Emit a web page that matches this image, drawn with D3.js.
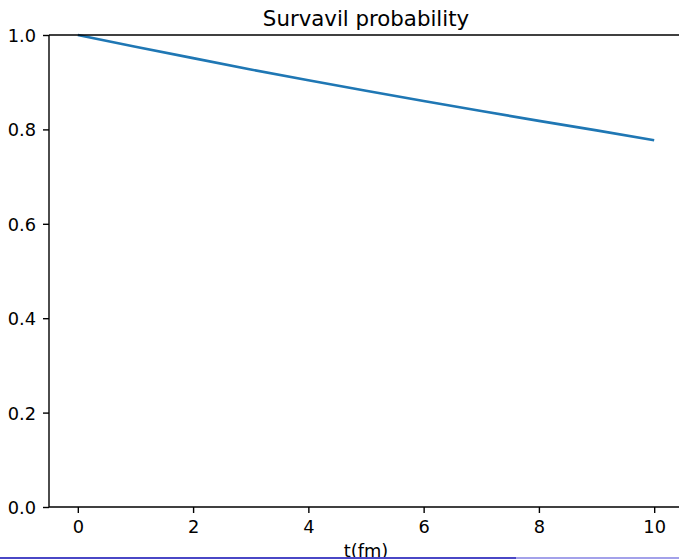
<!DOCTYPE html>
<html>
<head>
<meta charset="utf-8">
<script src="https://cdn.jsdelivr.net/npm/d3@7"></script>
<style>
  body { margin: 0; background: #fff; }
  svg { display: block; font-family: "DejaVu Sans", sans-serif; }
</style>
</head>
<body>
<svg id="chart"></svg>
<script>
var width = 679,
    height = 559;

// data
var times = [0, 1, 2, 3, 4, 5, 6, 7, 8, 9, 10];
var survival = [1.0, 0.975, 0.951, 0.927, 0.904, 0.882, 0.860, 0.839, 0.818, 0.798, 0.777];
var xTicks = [0, 2, 4, 6, 8, 10];
var yTicks = [0.0, 0.2, 0.4, 0.6, 0.8, 1.0];

// plot area (right edge falls just outside the picture)
var plotLeft = 49, plotTop = 35, plotBottom = 507, plotRight = 683;

var svg = d3.select("#chart")
    .attr("width", width)
    .attr("height", height);

var x = d3.scaleLinear().domain([-0.5, 10.5]).range([plotLeft, plotRight]);
var y = d3.scaleLinear().domain([0, 1]).range([plotBottom, plotTop]);

// line
var line = d3.line()
  .x(function(d, i) { return x(times[i]); })
  .y(function(d) { return y(d); });

svg.append("path")
  .datum(survival)
  .attr("d", line)
  .attr("fill", "none")
  .attr("stroke", "#1f77b4")
  .attr("stroke-width", 2.6)
  .attr("stroke-linecap", "butt");

// axes
var xAxis = svg.append("g")
  .attr("transform", "translate(0," + plotBottom + ")")
  .call(d3.axisBottom(x).tickValues(xTicks).tickSize(6).tickPadding(6).tickFormat(d3.format("d")));

var yAxis = svg.append("g")
  .attr("transform", "translate(" + plotLeft + ",0)")
  .call(d3.axisLeft(y).tickValues(yTicks).tickSize(6).tickPadding(7).tickFormat(d3.format(".1f")));

[xAxis, yAxis].forEach(function(g) {
  g.attr("font-size", null).attr("font-family", null);
  g.select(".domain").remove();
  g.selectAll(".tick line").attr("stroke", "#000").attr("stroke-width", 1.4);
  g.selectAll(".tick text").attr("fill", "#000").style("font-size", "17.8px");
});
xAxis.selectAll(".tick text").attr("dy", "0.76em");
yAxis.selectAll(".tick text").attr("dy", "0.36em");

// spines
svg.append("line").attr("x1", plotLeft).attr("x2", plotRight).attr("y1", plotTop).attr("y2", plotTop)
  .attr("stroke", "#000").attr("stroke-width", 1.4);
svg.append("line").attr("x1", plotLeft).attr("x2", plotRight).attr("y1", plotBottom).attr("y2", plotBottom)
  .attr("stroke", "#000").attr("stroke-width", 1.4);
svg.append("line").attr("x1", plotLeft).attr("x2", plotLeft).attr("y1", plotTop).attr("y2", plotBottom)
  .attr("stroke", "#000").attr("stroke-width", 1.4);

// title and label
svg.append("text")
  .attr("x", (plotLeft + plotRight) / 2)
  .attr("y", 26)
  .attr("text-anchor", "middle")
  .style("font-size", "21.3px")
  .text("Survavil probability");

svg.append("text")
  .attr("x", (plotLeft + plotRight) / 2)
  .attr("y", 557)
  .attr("text-anchor", "middle")
  .style("font-size", "17.8px")
  .text("t(fm)");

// thin strip along the bottom edge
svg.append("rect").attr("x", 0).attr("y", 557).attr("width", 516).attr("height", 2).attr("fill", "#4a47c6");
svg.append("rect").attr("x", 516).attr("y", 557).attr("width", 163).attr("height", 2).attr("fill", "#a3a1ea");
</script>
</body>
</html>
